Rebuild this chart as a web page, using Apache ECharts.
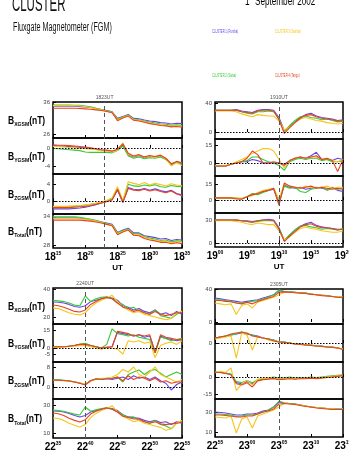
<!DOCTYPE html>
<html>
<head>
<meta charset="utf-8">
<script src="https://cdn.jsdelivr.net/npm/echarts@6/dist/echarts.min.js"></script>
<style>
html, body { margin: 0; padding: 0; background: #fff; }
#chart { width: 349px; height: 454px; }
</style>
</head>
<body>
<div id="chart"></div>
<script>
// spacecraft order in every panel: C1 Rumba, C2 Salsa, C3 Samba, C4 Tango
var craft = ['CLUSTER 1 (Rumba)', 'CLUSTER 2 (Salsa)', 'CLUSTER 3 (Samba)', 'CLUSTER 4 (Tango)'];
var colors = ['#6a45e6', '#38c838', '#f5c61c', '#e8421e'];

// time tick labels (hour, minute) for each block
var tlTicks = [['18', '15'], ['18', '20'], ['18', '25'], ['18', '30'], ['18', '35']];
var trTicks = [['19', '00'], ['19', '05'], ['19', '10'], ['19', '15'], ['19', '20']];
var blTicks = [['22', '35'], ['22', '40'], ['22', '45'], ['22', '50'], ['22', '55']];
var brTicks = [['22', '55'], ['23', '00'], ['23', '05'], ['23', '10'], ['23', '15']];

// y tick labels per panel (Bx, By, Bz, Btotal)
var tlYLabels = [[26, 36], [-4, 0], [0, 4], [28, 34]];
var trYLabels = [[0, 40], [0, 15], [0, 15], [0, 30]];
var blYLabels = [[20, 40], [-5, 0, 15], [0, 8], [10, 30]];
var brYLabels = [[0, 40], [0], [-15, 0, 5], [10, 30]];

// 18:15 - 18:35
var tlBx = [
    [34.7,34.7,34.7,34.7,34.7,34.6,34.5,34.3,34.0,33.7,33.4,33.0,31.0,31.6,32.2,31.0,30.9,30.5,30.2,30.0,29.7,29.6,29.3,29.5,29.4],
    [35.1,35.1,35.1,35.1,35.0,35.0,34.8,34.5,34.1,33.7,33.3,32.9,30.8,31.4,32.0,30.8,30.6,30.2,29.9,29.6,29.3,29.2,28.9,29.0,28.9],
    [34.9,34.9,34.9,34.9,34.9,34.8,34.6,34.3,33.9,33.6,33.2,32.8,30.6,31.3,31.9,30.6,30.4,30.0,29.6,29.3,29.0,28.9,28.6,28.7,28.6],
    [34.1,34.1,34.1,34.1,34.1,34.0,33.9,33.8,33.6,33.4,33.1,32.7,30.3,31.1,31.7,30.4,30.2,29.8,29.4,29.1,28.8,28.7,28.4,28.5,28.3]
];
var tlBy = [
    [0.5,0.4,0.4,0.3,0.2,0.1,0.0,-0.1,-0.3,-0.5,-0.6,-0.8,-0.4,0.7,-1.5,-2.0,-1.7,-2.2,-1.9,-2.0,-1.8,-2.5,-3.8,-3.1,-3.6],
    [-0.1,-0.2,-0.3,-0.4,-0.5,-0.6,-0.9,-1.0,-1.0,-1.0,-1.0,-1.1,-0.6,0.4,-1.8,-2.3,-2.0,-2.4,-2.2,-2.3,-2.0,-2.6,-3.6,-3.2,-3.4],
    [0.3,0.3,0.2,0.1,0.0,-0.1,-0.2,-0.3,-0.4,-0.6,-0.7,-0.9,-0.5,1.1,-1.4,-1.9,-1.6,-2.1,-1.8,-2.2,-1.7,-2.4,-4.0,-3.3,-3.9],
    [0.7,0.6,0.6,0.5,0.4,0.3,0.2,0.0,-0.2,-0.4,-0.5,-0.7,-0.3,0.9,-1.2,-1.8,-1.5,-2.0,-1.7,-1.9,-1.6,-2.3,-3.5,-3.0,-3.3]
];
var tlBz = [
    [-1.8,-1.8,-1.8,-1.8,-1.7,-1.6,-1.4,-1.1,-0.8,-0.4,0.0,0.4,2.6,-0.3,3.2,2.8,2.7,3.0,2.6,2.9,2.5,2.2,2.6,1.8,1.5],
    [-1.3,-1.3,-1.3,-1.2,-1.2,-1.1,-0.9,-0.7,-0.5,-0.3,0.1,0.6,3.0,0.0,4.0,3.6,3.5,3.8,3.6,3.9,3.4,3.3,3.7,3.5,3.4],
    [-1.2,-1.2,-1.2,-1.2,-1.1,-1.0,-0.9,-0.7,-0.5,-0.2,0.2,0.8,3.4,0.2,4.6,4.2,3.9,4.4,3.8,4.2,3.9,3.6,4.1,3.8,3.6],
    [-1.5,-1.5,-1.5,-1.5,-1.4,-1.3,-1.2,-1.0,-0.7,-0.4,-0.1,0.3,2.8,-0.2,3.0,2.6,2.5,2.8,2.4,2.7,2.3,2.0,2.4,1.7,1.3]
];
var tlBt = [
    [33.8,33.8,33.8,33.8,33.8,33.7,33.6,33.4,33.2,32.9,32.7,32.4,30.7,31.2,31.6,30.6,30.6,30.0,29.8,29.6,29.3,29.4,29.0,29.2,29.1],
    [34.0,34.0,34.0,34.0,34.0,33.9,33.7,33.5,33.2,32.9,32.6,32.3,30.6,31.1,31.4,30.4,30.4,29.8,29.5,29.3,29.0,29.1,28.7,28.9,28.8],
    [33.7,33.7,33.7,33.7,33.7,33.6,33.5,33.3,33.1,32.8,32.5,32.2,30.4,30.9,31.3,30.2,30.2,29.6,29.3,29.1,28.8,28.9,28.5,28.7,28.6],
    [33.3,33.3,33.3,33.3,33.3,33.3,33.2,33.1,32.9,32.7,32.4,32.1,30.2,30.8,31.2,30.1,30.0,29.4,29.1,28.9,28.6,28.6,28.3,28.5,28.3]
];

// 19:00 - 19:20
var trBx = [
    [30,30,30,30,31,29,28,27,30,31,31,30,20,2,8,14,20,24,26,22,20,19,18,16,17],
    [30,30,30,30,30,28,26,25,28,28,29,28,18,1,9,16,21,22,20,19,17,18,16,14,15],
    [29,29,29,29,28,25,23,21,24,23,22,22,15,3,7,13,18,20,18,16,15,13,12,11,12],
    [30,30,30,30,30,28,27,26,29,30,30,29,17,-2,6,13,19,23,24,21,19,18,17,15,16]
];
var trBy = [
    [-2.5,-2.5,-2.5,-1,0,1,1,3,2,0,0,0,0,-1,2,4,5,4,6,9,3,3,2,4,3],
    [-2.5,-2.5,-2.5,-1,0,1,2,5,5,3,1,0,-2,-6,1,3,4,3,4,4,2,3,1,1,2],
    [-2,-2,-2,-1,1,3,5,8,10,12,12,10,3,-4,2,4,5,4,5,5,3,4,2,1,3],
    [-2.5,-2.5,-2.5,-1,0,1,4,10,7,0,0,1,0,-2,2,4,5,4,5,6,3,4,2,-7,3]
];
var trBz = [
    [2,2,2,2,1.5,1,3,5,6,8,9,10,-3,14,12,11,12,10,11,12,11,10,12,9,8],
    [2,2,2,2,1.5,1,3,6,5,7,9,11,-1,13,11,12,8,7,10,11,12,9,11,10,11],
    [2,2,2,2,2,1.5,3,4,7,9,10,11,1,15,13,12,11,13,12,11,12,13,11,12,12],
    [2,2,2,2,1,1,3,5,6,8,9,11,-5,16,13,12,11,12,13,11,12,11,10,11,10]
];
var trBt = [
    [30,30,30,30,30,29,29,28,29,30,31,30,20,3,10,17,22,25,27,23,21,20,19,18,18],
    [30,30,30,30,30,29,28,27,28,29,29,29,19,4,11,17,22,23,21,20,18,19,18,17,19],
    [29,29,29,29,28,27,25,24,26,25,24,24,16,4,8,14,19,21,19,18,16,15,14,14,16],
    [30,30,30,30,30,29,28,27,29,30,30,29,18,2,9,15,21,24,25,22,20,20,19,17,18]
];

// 22:35 - 22:55
var blBx = [
    [30.7,30.5,30,29,27.5,27,28,31,32,33,34,33.5,32,28,27,25,26,24,23,25,22,23,21,24,22],
    [32,31.5,31,30,28.5,28,35,31,33,34,34.5,33,30,29,26,27,24,23,22,25,21,20,19,22,24],
    [26.5,26,24.5,23,22,21.5,23,27,30,32,33.5,35.5,31,27,25,23,24,22,21,20,19,18,19,23,24],
    [28.6,28,27,25.5,24,23.6,25,29,31,33,34,33,30,27,26,24,25,23,22,24,22,21,22,23,23]
];
var blBy = [
    [1,1,1,1.5,2,3,3,2,1,0,0.5,1,13,12,11,10,11,9,10,-3,10,8,7,6,7],
    [1,1,1,1.5,2,3,4,2,1,0,3,16,12,11,10,11,9,8,7,-4,9,8,6,7,8],
    [0.5,0.5,1,1,1.5,2,2,1,0,-1,0,0,-1,-5,6,5,6,4,5,-8,2,4,5,3,6],
    [1,1,1,1.5,2,3,3,2,1,0,0.5,1,14,13,12,10,11,10,11,-4,11,9,8,7,7]
];
var blBz = [
    [2.8,2.8,2.6,2.4,2,1.5,1,2.5,3.2,3,3.3,3,3.5,4,3,4.5,3.5,4,3,4,2.5,1.5,-1.2,1,2],
    [2.9,2.9,2.7,2.5,2.1,1.6,1,2.6,3.3,3.2,3.5,3.5,4,2,5,6,6.8,5,6.5,7,5.5,4,5,6,5],
    [2.6,2.6,2.5,2.3,2,1.6,1.2,2.4,3,3.4,3.6,4,5,7,6,8,5,4,6,8,5,4,3,2,3],
    [2.7,2.7,2.6,2.4,2,1.5,0.8,2.5,3.2,3.1,3.3,3.4,4,2.5,4.5,3,4,3.5,2.5,3.5,2,2.5,1.5,2,2]
];
var blBt = [
    [25.7,25.5,25,24,22.5,21.4,22.5,25,26,27,28,27.5,26,23,21.5,21,20.5,19,18,19,17.5,18,16,18,17],
    [26.4,26,25.5,24.5,23.5,22.9,28.6,25.5,26.5,27.5,28,27,25,23,21,21.5,19,18,17,19,16,15,13,17,19],
    [20.7,20.3,19,17,15.5,14.3,16,21,24,26,27.5,29.5,25,22,20,18,19,17,16,15,14,12,13,17,19],
    [24.3,23.8,22.5,20.5,19,17.9,19.5,23.5,25.5,27,27.8,27,25,22,21,20,20,18,17,18,16.5,16,16.5,17,17.5]
];

// 22:55 - 23:15
var brBx = [
    [29,28,27,26,25,24,25,26,27,29,31,33,38,37,36.5,36,35.5,35,34,33,32.5,32,31,30.5,30],
    [27,27,26,25,23,23,24,25,26,28,30,33,39,37,36.5,36,35.5,35,34,33,32.5,32,31,30.5,30],
    [23,22,21,22,9,20,22,17,24,26,28,30,33,36,36,35.5,35,34.5,34,33,32.5,31.5,31,30.5,30],
    [26,26,25,24.5,23,22,24,22,25,27,29,31,36,36.5,36,35.5,35,34.5,33.5,33,32,31.5,31,30,29.5]
];
var brBy = [
    [5,6,7,8,9,10,9,8,7,5,4,3,1,1,0,-1,-1,-2,-2,-3,-3,-4,-4,-5,-6],
    [5,6,7,8,9,11,9,8,6,5,4,3,1,1,0,-1,-1,-2,-2,-3,-3,-4,-4,-5,-6],
    [4,5,6,7,-15,10,8,-7,6,5,3,2,1,0,-0.5,-1,-1.5,-2,-2.5,-3,-3.5,-4,-4.5,-5,-6],
    [5,6,7,9,10,11,10,7,6,5,4,2,1,0.5,0,-1,-1.5,-2,-2.5,-3,-3.5,-4,-4.5,-5,-6.5]
];
var brBz = [
    [4,4,3.5,2,-5,-6,-4,-6,-3,-2,-1.5,-1,-2,-1.5,-1,-1.5,-1,-1,-0.5,-1,-0.5,0,0.5,1,1.5],
    [4.5,4,3.5,2.5,-4,-5,-3,-5,-2.5,-1.5,-1,0,-1,-1,0,-1,-0.5,-1,0,-0.5,0,0.5,1,1.5,2],
    [4,5,4,8,-12,-6,-3,-7,-2,-1,-1,-0.5,-2,-1.5,-1,-1.5,-1,-1,-0.5,-1,-0.5,0,0.5,1,1.8],
    [4,4,3,2,-6,-7,-5,-8.8,-3.5,-2.5,-2,-1.5,-2.5,-2,-1.5,-2,-1.5,-1.5,-1,-1.5,-1,-0.5,0,0.5,1.2]
];
var brBt = [
    [30,29.5,29,28,27,27,28,28,29,31,32,35,40,39,38.5,38,37,36,35,34.5,34,33.5,33,33,33],
    [28,28,27.5,27,25.5,26,27,27,28,30,31.5,35,41,39,38.5,38,37,36,35,34.5,34,33.5,33,33,33],
    [25,24.5,24,26,9,23,25,14,26,28,30,32,35,39,38,37.5,37,36,35,34.5,34,33.5,33,32.5,33],
    [27,27,26.5,26,25,25,26,26,28,30,31,33,38,38.5,38,37.5,36.5,35.5,35,34,33.5,33,32.5,32.5,32.5]
];

var sans = "'Liberation Sans', sans-serif";

// block layout: x extent, panel row edges, y ranges, event time position (0..100)
var blocks = [
    { panels: [tlBx, tlBy, tlBz, tlBt], ylab: tlYLabels, ticks: tlTicks, left: 53, right: 182,
      rows: [102, 138, 174, 214, 248], ranges: [[25, 36], [-5.8, 2.2], [-3, 6.4], [27.4, 34.6]],
      zero: [false, true, true, false], event: 40, eventName: '1823UT' },
    { panels: [trBx, trBy, trBz, trBt], ylab: trYLabels, ticks: trTicks, left: 215, right: 343,
      rows: [102, 139, 176, 213, 247], ranges: [[-9.6, 41.4], [-10.8, 20], [-12.2, 22.5], [-5, 39]],
      zero: [true, true, true, true], event: 50, eventName: '1910UT' },
    { panels: [blBx, blBy, blBz, blBt], ylab: blYLabels, ticks: blTicks, left: 53, right: 182,
      rows: [288, 324, 362, 399, 438], ranges: [[15, 40.7], [-11.7, 20], [-4.8, 10], [6.4, 34.3]],
      zero: [false, true, true, false], event: 25, eventName: '2240UT' },
    { panels: [brBx, brBy, brBz, brBt], ylab: brYLabels, ticks: brTicks, left: 215, right: 343,
      rows: [289, 324, 362, 399, 437], ranges: [[-2.4, 40], [-19, 19], [-19.4, 13.2], [5, 43]],
      zero: [false, true, true, false], event: 50, eventName: '2305UT' }
];

var grids = [], xAxes = [], yAxes = [], series = [];

blocks.forEach(function(b) {
    b.panels.forEach(function(panel, pi) {
        var idx = grids.length;
        var last = pi === 3;
        grids.push({
            left: b.left, top: b.rows[pi],
            width: b.right - b.left, height: b.rows[pi + 1] - b.rows[pi],
            containLabel: false, outerBoundsMode: 'none',
            show: true, borderColor: '#000', borderWidth: 1.5, backgroundColor: 'transparent'
        });
        xAxes.push({
            gridIndex: idx, type: 'value', min: 0, max: 100, interval: 25,
            axisLine: { show: false }, splitLine: { show: false },
            axisTick: { show: true, inside: true, length: 3, lineStyle: { color: '#000' } },
            axisLabel: {
                show: last, margin: 3, color: '#000',
                formatter: function(v) {
                    var t = b.ticks[Math.round(v / 25)];
                    if (!t) return '';
                    return '{h|' + t[0] + '}{m|' + t[1] + '}' + (v === 50 ? '\n{u|UT}' : '');
                },
                rich: {
                    h: { fontSize: 10, fontWeight: 'bold', fontFamily: sans, lineHeight: 11, verticalAlign: 'bottom' },
                    m: { fontSize: 5, fontWeight: 'bold', fontFamily: sans, lineHeight: 11, verticalAlign: 'top' },
                    u: { fontSize: 8, fontWeight: 'bold', fontFamily: sans, lineHeight: 11 }
                }
            }
        });
        yAxes.push({
            gridIndex: idx, type: 'value', min: b.ranges[pi][0], max: b.ranges[pi][1],
            axisLine: { show: false }, splitLine: { show: false },
            axisTick: { show: true, inside: true, length: 3, customValues: b.ylab[pi], lineStyle: { color: '#000' } },
            axisLabel: { customValues: b.ylab[pi], fontSize: 6, color: '#444', margin: 3, fontFamily: sans }
        });

        var marks = [{
            xAxis: b.event,
            lineStyle: { type: [4, 3], color: '#555', width: 1 },
            label: { show: pi === 0, position: 'end', formatter: b.eventName, fontSize: 5, color: '#555', distance: 2 }
        }];
        if (b.zero[pi]) {
            marks.push({ yAxis: 0, lineStyle: { type: [1.5, 1.5], color: '#000', width: 1 }, label: { show: false } });
        }

        panel.forEach(function(vals, si) {
            var s = {
                type: 'line', xAxisIndex: idx, yAxisIndex: idx,
                symbol: 'none', silent: true,
                lineStyle: { width: 1.1, color: colors[si] },
                data: vals.map(function(v, i) { return [i * 100 / (vals.length - 1), v]; })
            };
            if (si === 0) {
                s.markLine = { symbol: ['none', 'none'], silent: true, data: marks };
            }
            series.push(s);
        });
    });
});

function yName(x, y, sub) {
    return {
        type: 'text', x: x, y: y, scaleX: 0.85,
        style: {
            text: '{b|B}{s|' + sub + '}{b|(nT)}',
            verticalAlign: 'middle', textVerticalAlign: 'middle',
            rich: {
                b: { fontSize: 10, fontWeight: 'bold', fontFamily: sans, lineHeight: 13, verticalAlign: 'middle' },
                s: { fontSize: 6, fontWeight: 'bold', fontFamily: sans, lineHeight: 13, verticalAlign: 'bottom' }
            }
        }
    };
}

var graphics = [
    { type: 'text', x: 12, y: 16, scaleX: 0.52,
      style: { text: 'CLUSTER', fontSize: 22, fontFamily: sans, fill: '#111',
               verticalAlign: 'bottom', textVerticalAlign: 'bottom' } },
    { type: 'text', x: 13, y: 28, scaleX: 0.6,
      style: { text: 'Fluxgate Magnetometer (FGM)', fontSize: 12, fontFamily: sans, fill: '#111',
               verticalAlign: 'middle', textVerticalAlign: 'middle' } },
    { type: 'text', x: 245, y: 8, scaleX: 0.68,
      style: { text: '{a|1}{s|st}{a| September 2002}', verticalAlign: 'bottom', textVerticalAlign: 'bottom',
               rich: { a: { fontSize: 12, fontFamily: sans, color: '#111', lineHeight: 13, verticalAlign: 'bottom' },
                       s: { fontSize: 6, fontFamily: sans, color: '#111', lineHeight: 13, verticalAlign: 'top' } } } }
];

var legendPos = [[212, 32], [212, 76], [275, 32], [275, 76]];
craft.forEach(function(name, i) {
    graphics.push({
        type: 'text', x: legendPos[i][0], y: legendPos[i][1], scaleX: 0.6,
        style: { text: name, fontSize: 4.5, fontFamily: sans, fill: colors[i],
                 verticalAlign: 'middle', textVerticalAlign: 'middle' }
    });
});

var subs = ['XGSM', 'YGSM', 'ZGSM', 'Total'];
[blocks[0], blocks[2]].forEach(function(b) {
    subs.forEach(function(sub, pi) {
        graphics.push(yName(8, (b.rows[pi] + b.rows[pi + 1]) / 2 + 1, sub));
    });
});

var chart = echarts.init(document.getElementById('chart'));
chart.setOption({
    animation: false,
    backgroundColor: '#fff',
    grid: grids,
    xAxis: xAxes,
    yAxis: yAxes,
    series: series,
    graphic: graphics
});
</script>
</body>
</html>
